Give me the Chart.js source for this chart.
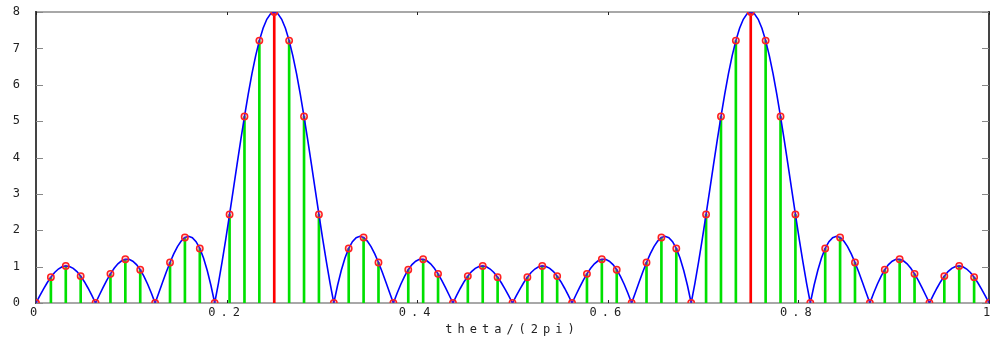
<!DOCTYPE html>
<html>
<head>
<meta charset="utf-8">
<script src="https://cdn.jsdelivr.net/npm/chart.js@4/dist/chart.umd.min.js"></script>
<style>
  body { margin: 0; background: #fff; }
  #chart { display: block; }
</style>
</head>
<body>
<canvas id="chart" width="999" height="337"></canvas>
<script>
// sampled values (red circles + stems), 65 samples over theta in [0, 1]
let stemValues = [
  0, 0.711, 1.020, 0.739, 0, 0.802, 1.203, 0.915, 0, 1.115, 1.800, 1.500, 0, 2.436, 5.126, 7.214,
  8, 7.214, 5.126, 2.436, 0, 1.500, 1.800, 1.115, 0, 0.915, 1.203, 0.802, 0, 0.739, 1.020, 0.711,
  0, 0.711, 1.020, 0.739, 0, 0.802, 1.203, 0.915, 0, 1.115, 1.800, 1.500, 0, 2.436, 5.126, 7.214,
  8, 7.214, 5.126, 2.436, 0, 1.500, 1.800, 1.115, 0, 0.915, 1.203, 0.802, 0, 0.739, 1.020, 0.711,
  0
]
// continuous magnitude (blue curve), 257 samples over theta in [0, 1]
let curveValues = [
  0, 0.195, 0.383, 0.557, 0.711, 0.838, 0.934, 0.995, 1.020, 1.005, 0.952, 0.863, 0.739, 0.585, 0.406, 0.209,
  0, 0.213, 0.423, 0.622, 0.802, 0.956, 1.077, 1.161, 1.203, 1.200, 1.150, 1.055, 0.915, 0.734, 0.516, 0.269,
  0, 0.283, 0.570, 0.851, 1.115, 1.351, 1.551, 1.703, 1.800, 1.833, 1.797, 1.687, 1.500, 1.236, 0.895, 0.481,
  0, 0.542, 1.136, 1.771, 2.436, 3.117, 3.802, 4.476, 5.126, 5.737, 6.297, 6.793, 7.214, 7.552, 7.799, 7.950,
  8, 7.950, 7.799, 7.552, 7.214, 6.793, 6.297, 5.737, 5.126, 4.476, 3.802, 3.117, 2.436, 1.771, 1.136, 0.542,
  0, 0.481, 0.895, 1.236, 1.500, 1.687, 1.797, 1.833, 1.800, 1.703, 1.551, 1.351, 1.115, 0.851, 0.570, 0.283,
  0, 0.269, 0.516, 0.734, 0.915, 1.055, 1.150, 1.200, 1.203, 1.161, 1.077, 0.956, 0.802, 0.622, 0.423, 0.213,
  0, 0.209, 0.406, 0.585, 0.739, 0.863, 0.952, 1.005, 1.020, 0.995, 0.934, 0.838, 0.711, 0.557, 0.383, 0.195,
  0, 0.195, 0.383, 0.557, 0.711, 0.838, 0.934, 0.995, 1.020, 1.005, 0.952, 0.863, 0.739, 0.585, 0.406, 0.209,
  0, 0.213, 0.423, 0.622, 0.802, 0.956, 1.077, 1.161, 1.203, 1.200, 1.150, 1.055, 0.915, 0.734, 0.516, 0.269,
  0, 0.283, 0.570, 0.851, 1.115, 1.351, 1.551, 1.703, 1.800, 1.833, 1.797, 1.687, 1.500, 1.236, 0.895, 0.481,
  0, 0.542, 1.136, 1.771, 2.436, 3.117, 3.802, 4.476, 5.126, 5.737, 6.297, 6.793, 7.214, 7.552, 7.799, 7.950,
  8, 7.950, 7.799, 7.552, 7.214, 6.793, 6.297, 5.737, 5.126, 4.476, 3.802, 3.117, 2.436, 1.771, 1.136, 0.542,
  0, 0.481, 0.895, 1.236, 1.500, 1.687, 1.797, 1.833, 1.800, 1.703, 1.551, 1.351, 1.115, 0.851, 0.570, 0.283,
  0, 0.269, 0.516, 0.734, 0.915, 1.055, 1.150, 1.200, 1.203, 1.161, 1.077, 0.956, 0.802, 0.622, 0.423, 0.213,
  0, 0.209, 0.406, 0.585, 0.739, 0.863, 0.952, 1.005, 1.020, 0.995, 0.934, 0.838, 0.711, 0.557, 0.383, 0.195,
  0
]
let xTicks = [0, 0.2, 0.4, 0.6, 0.8, 1]
let yTicks = [0, 1, 2, 3, 4, 5, 6, 7, 8]
let xTitle = 'theta/(2pi)'

let stemPoints = []
let stemColors = []
for (var k = 0; k < stemValues.length; k++) {
  stemPoints.push({ x: k / (stemValues.length - 1), y: stemValues[k] })
  stemColors.push(stemValues[k] >= 8 ? '#ff0000' : '#00e000')
}
let curvePoints = []
for (var j = 0; j < curveValues.length; j++) {
  curvePoints.push({ x: j / (curveValues.length - 1), y: curveValues[j] })
}

// frame + inward tick marks, old octave/gnuplot look
let framePlugin = {
  id: 'frame',
  beforeDraw: function (chart) {
    chart.ctx.letterSpacing = '5px'
  },
  beforeDatasetsDraw: function (chart) {
    let ctx = chart.ctx
    let a = chart.chartArea
    let xs = chart.scales.x
    let ys = chart.scales.y
    ctx.save()
    ctx.letterSpacing = '0px'
    ctx.lineWidth = 2
    ctx.strokeStyle = '#a8a8a8'
    ctx.beginPath()
    ctx.moveTo(a.left, a.top); ctx.lineTo(a.right, a.top)
    ctx.moveTo(a.left, a.bottom); ctx.lineTo(a.right, a.bottom)
    ctx.stroke()
    ctx.strokeStyle = '#444'
    ctx.beginPath()
    ctx.moveTo(a.left, a.top - 1); ctx.lineTo(a.left, a.bottom + 1)
    ctx.moveTo(a.right, a.top - 1); ctx.lineTo(a.right, a.bottom + 1)
    ctx.stroke()
    ctx.lineWidth = 1
    ctx.strokeStyle = '#888'
    ctx.beginPath()
    yTicks.forEach(function (v) {
      let py = Math.round(ys.getPixelForValue(v)) + 0.5
      ctx.moveTo(a.left, py); ctx.lineTo(a.left + 7, py)
      ctx.moveTo(a.right, py); ctx.lineTo(a.right - 7, py)
    })
    ctx.stroke()
    ctx.strokeStyle = '#222'
    ctx.beginPath()
    xTicks.forEach(function (v) {
      let px = Math.round(xs.getPixelForValue(v)) + 0.5
      ctx.moveTo(px, a.bottom); ctx.lineTo(px, a.bottom - 3)
      ctx.moveTo(px, a.top); ctx.lineTo(px, a.top + 3)
    })
    ctx.stroke()
    ctx.restore()
  }
}

let ctx = document.getElementById('chart').getContext('2d')
let myChart = new Chart(ctx, {
  type: 'line',
  data: {
    datasets: [
      {
        label: 'samples',
        data: stemPoints,
        showLine: false,
        pointRadius: 3.2,
        pointStyle: 'circle',
        pointBorderColor: '#ff2020',
        pointBackgroundColor: 'rgba(255,80,80,0.25)',
        pointBorderWidth: 1.5,
        order: 0
      },
      {
        label: 'magnitude',
        data: curvePoints,
        borderColor: '#0000ff',
        borderWidth: 1.6,
        pointRadius: 0,
        tension: 0,
        order: 1
      },
      {
        type: 'bar',
        label: 'stems',
        data: stemPoints,
        backgroundColor: stemColors,
        barThickness: 2,
        grouped: false,
        order: 2
      }
    ]
  },
  options: {
    responsive: false,
    animation: false,
    devicePixelRatio: 1,
    layout: { padding: { top: 12, right: 10, left: 0, bottom: 0 } },
    plugins: {
      legend: { display: false },
      tooltip: { enabled: false }
    },
    scales: {
      x: {
        type: 'linear',
        min: 0,
        max: 1,
        offset: false,
        afterFit: function (scale) {
          scale.height = 34
          scale.paddingLeft = 0
          scale.paddingRight = 0
        },
        afterBuildTicks: function (scale) {
          scale.ticks = xTicks.map(function (v) { return { value: v } })
        },
        grid: { display: false, drawTicks: false },
        border: { display: false },
        ticks: {
          autoSkip: false,
          maxRotation: 0,
          padding: 3,
          color: '#222',
          font: { family: 'DejaVu Sans Mono', size: 12 },
          callback: function (v) { return String(Number(v.toFixed(1))) }
        },
        title: {
          display: true,
          text: xTitle,
          color: '#222',
          padding: { top: 0, bottom: 0 },
          font: { family: 'DejaVu Sans Mono', size: 12 }
        }
      },
      y: {
        min: 0,
        max: 8,
        afterFit: function (scale) {
          scale.width = 36
          scale.paddingTop = 0
          scale.paddingBottom = 0
        },
        afterBuildTicks: function (scale) {
          scale.ticks = yTicks.map(function (v) { return { value: v } })
        },
        grid: { display: false, drawTicks: false },
        border: { display: false },
        ticks: {
          padding: 11,
          color: '#222',
          font: { family: 'DejaVu Sans Mono', size: 12 }
        }
      }
    }
  },
  plugins: [framePlugin]
})
</script>
</body>
</html>
